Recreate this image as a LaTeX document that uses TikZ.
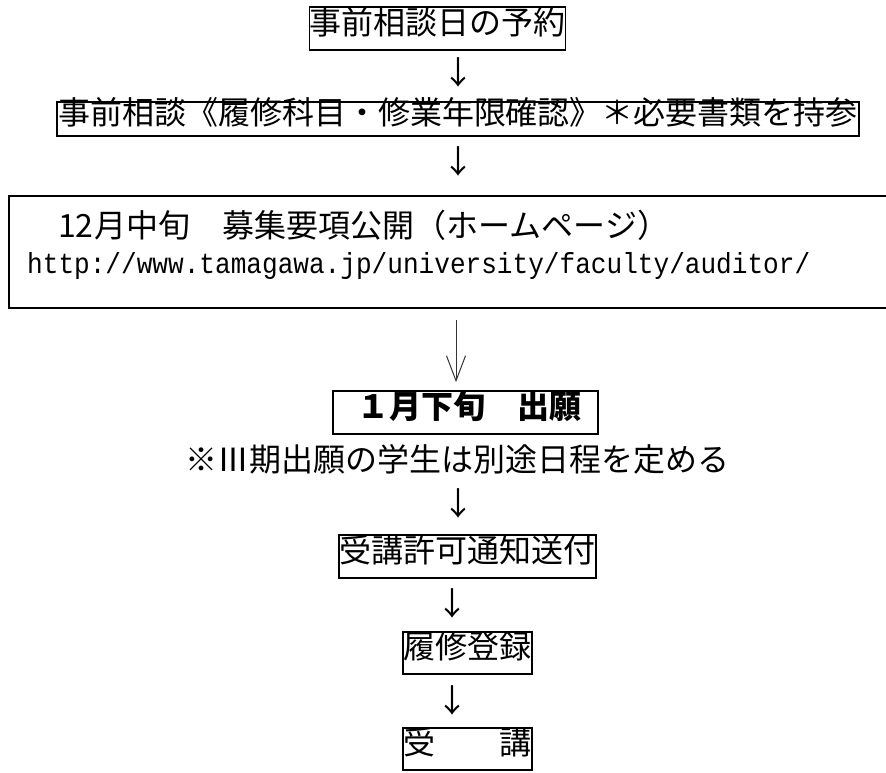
\documentclass[tikz,border=0pt]{standalone}
\usepackage{fontspec}
\setmainfont{Noto Sans CJK JP}
\newfontfamily\urlfont[FakeStretch=0.9]{Liberation Mono}
\usetikzlibrary{arrows.meta}
\begin{document}
\begin{tikzpicture}[x=1pt,y=-1pt,
  jfont/.style={font=\fontsize{32}{38}\selectfont},
  txt/.style={jfont, inner sep=0pt, text height=1.18em, text depth=0pt},
  box/.style={txt, draw, line width=1.7pt, minimum height=43pt},
  dnarrow/.style={txt},
  longarr/.style={line width=1pt, draw=black!80, -{Straight Barb[length=25pt,width=19pt]}, shorten <=12pt, shorten >=8pt}
]
\useasboundingbox (0,0) rectangle (886,772);

\node[box, minimum width=255pt] (b1) at (437.5,28.5) {事前相談日の予約};
\node[dnarrow] (d1) at (458,79) {↓};
\node[box, minimum width=802pt, minimum height=34pt] (b2) at (458,119) {事前相談《履修科目・修業年限確認》＊必要書類を持参};
\node[dnarrow] (d2) at (458,168) {↓};

\node[inner sep=0pt, minimum width=877pt, minimum height=112pt] (b3) at (447.5,252) {};
\draw[line width=1.7pt] (b3.north east) -- (b3.north west) -- (b3.south west) -- (b3.south east);
\node[txt, anchor=west] (l1) at (58,232) {12\hspace*{1pt}月中旬　募集要項公開（ホームページ）};
\node[txt, anchor=west, font=\urlfont\fontsize{29}{36}\selectfont] (url) at (27,268) {http://www.tamagawa.jp/university/faculty/auditor/};

\coordinate (ax) at (456,0);
\node[box, minimum width=265pt, font=\fontsize{32}{38}\selectfont\bfseries] (b4) at (465.5,412.5) {\hspace*{7pt}１月下旬　出願};
\draw[longarr] (b3.south -| ax) -- (b4.north -| ax);

\node[txt] (note) at (457.5,466) {※Ⅲ期出願の学生は別途日程を定める};
\node[dnarrow] (d3) at (458,510) {↓};
\node[box, minimum width=257pt] (b5) at (467.5,556.5) {受講許可通知送付};
\node[dnarrow] (d4) at (452,610) {↓};
\node[box, minimum width=129pt, minimum height=42pt] (b6) at (467.5,653) {履修登録};
\node[dnarrow] (d5) at (452,707) {↓};
\node[box, minimum width=129pt, minimum height=42pt] (b7) at (467.5,749) {受　　講};
\end{tikzpicture}
\end{document}
